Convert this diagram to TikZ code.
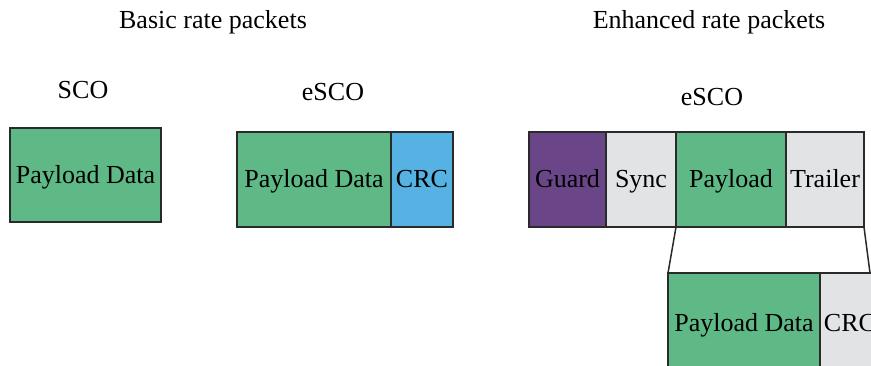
\documentclass[tikz,border=0pt]{standalone}
\usepackage{fontspec}
\setmainfont{Liberation Serif}
\usetikzlibrary{positioning}

\definecolor{paygreen}{HTML}{5EB986}
\definecolor{crcblue}{HTML}{56B2E3}
\definecolor{guardpurple}{HTML}{6A4689}
\definecolor{fieldgray}{HTML}{E2E3E5}
\definecolor{edgegray}{HTML}{2A2A2A}

\begin{document}
\begin{tikzpicture}[x=1pt,y=-1pt,
  field/.style={draw=edgegray, line width=1.5pt, inner sep=0pt, outer sep=0pt,
    minimum height=95pt, text height=20pt, text depth=4pt,
    font=\fontsize{26}{30}\selectfont, anchor=west},
  heading/.style={font=\fontsize{26}{30}\selectfont}]

  \useasboundingbox (0,0) rectangle (871,365);

  % basic rate
  \node[heading] (basictitle) at (213,22) {Basic rate packets};
  \node[heading] (scotitle) at (83,90) {SCO};
  \node[heading] (bescotitle) at (333,92) {eSCO};

  \node[field, fill=paygreen, minimum width=151pt, minimum height=94pt] (sco) at (10,175) {Payload Data};

  \node[field, fill=paygreen, minimum width=154pt] (bpay) at (237,179.5) {Payload Data};
  \node[field, fill=crcblue, minimum width=62pt, right=0pt of bpay] (bcrc) {CRC};

  % enhanced rate
  \node[heading] (enhtitle) at (709,22) {Enhanced rate packets};
  \node[heading] (eescotitle) at (712,97) {eSCO};

  \node[field, fill=guardpurple, minimum width=77pt] (guard) at (529,179.5) {Guard};
  \node[field, fill=fieldgray, minimum width=70pt, right=0pt of guard] (sync) {Sync};
  \node[field, fill=paygreen, minimum width=110pt, right=0pt of sync] (epay) {Payload};
  \node[field, fill=fieldgray, minimum width=78pt, right=0pt of epay] (trailer) {Trailer};

  \node[field, fill=paygreen, minimum width=152pt, minimum height=100pt] (pdata) at (668,323) {Payload Data};
  \node[field, fill=fieldgray, minimum width=60pt, minimum height=100pt, right=0pt of pdata] (ecrc) {CRC};

  \coordinate (cut) at (870,273);
  \draw[edgegray, line width=1.5pt] (epay.south west) -- (pdata.north west);
  \draw[edgegray, line width=1.5pt] (trailer.south east) -- (cut);

\end{tikzpicture}
\end{document}
